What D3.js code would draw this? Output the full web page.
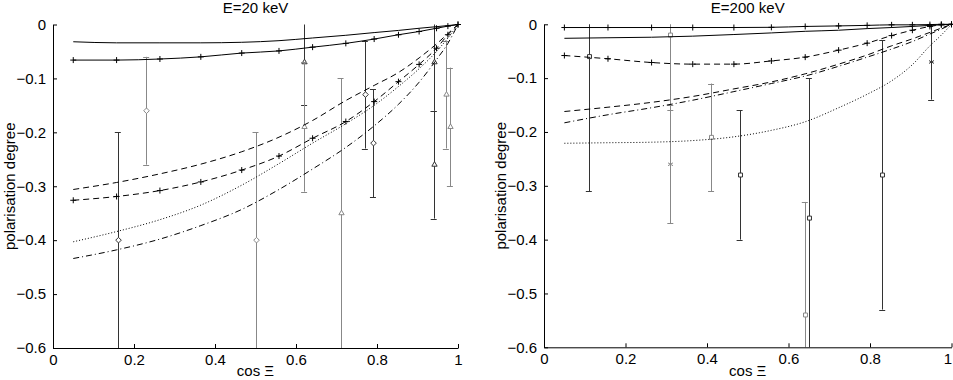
<!DOCTYPE html>
<meta charset="utf-8">
<style type="text/css">
body {
    margin: 0;
    background: #fff;
}

svg {
    display: block;
    font-family: 'Liberation Sans', Arial, sans-serif;
}
</style>

<body>
    <script src="https://d3js.org/d3.v7.min.js"></script>
    <script>
    // cos(Xi) grid used by every model curve
    var cosGrid = [0.05, 0.157, 0.264, 0.365, 0.466, 0.558, 0.641, 0.723, 0.793, 0.853, 0.904, 0.947, 0.975, 1.0]

    var xTicks = [0, 0.2, 0.4, 0.6, 0.8, 1]
    var yTicks = [0, -0.1, -0.2, -0.3, -0.4, -0.5, -0.6]
    var titles = ['E=20 keV', 'E=200 keV']

    // E = 20 keV model curves
    var e20Solid = [-0.032, -0.034, -0.034, -0.034, -0.033, -0.030, -0.025, -0.020, -0.015, -0.011, -0.007, -0.004, -0.002, 0]
    var e20SolidPlus = [-0.066, -0.066, -0.064, -0.060, -0.053, -0.049, -0.042, -0.035, -0.027, -0.019, -0.013, -0.007, -0.003, 0]
    var e20Dashed = [-0.306, -0.293, -0.277, -0.259, -0.236, -0.209, -0.178, -0.141, -0.113, -0.089, -0.062, -0.036, -0.017, 0]
    var e20DashedPlus = [-0.326, -0.319, -0.308, -0.292, -0.270, -0.244, -0.211, -0.180, -0.143, -0.106, -0.074, -0.044, -0.019, 0]
    var e20Dotted = [-0.403, -0.384, -0.362, -0.335, -0.298, -0.258, -0.220, -0.184, -0.150, -0.115, -0.082, -0.050, -0.025, 0]
    var e20DashDot = [-0.434, -0.418, -0.398, -0.373, -0.343, -0.306, -0.268, -0.228, -0.188, -0.148, -0.107, -0.065, -0.035, 0]

    // E = 200 keV model curves
    var e200Solid = [-0.026, -0.025, -0.024, -0.022, -0.019, -0.016, -0.013, -0.011, -0.008, -0.006, -0.004, -0.002, -0.001, 0]
    var e200SolidPlus = [-0.006, -0.006, -0.006, -0.006, -0.006, -0.0056, -0.004, -0.003, -0.002, -0.001, -0.001, -0.0005, 0, 0]
    var e200Dashed = [-0.162, -0.154, -0.145, -0.134, -0.120, -0.107, -0.092, -0.074, -0.057, -0.040, -0.027, -0.015, -0.007, 0]
    var e200DashedPlus = [-0.058, -0.064, -0.071, -0.074, -0.074, -0.068, -0.061, -0.048, -0.035, -0.021, -0.011, -0.004, -0.001, 0]
    var e200Dotted = [-0.221, -0.220, -0.219, -0.216, -0.209, -0.197, -0.181, -0.155, -0.130, -0.105, -0.075, -0.040, -0.020, 0]
    var e200DashDot = [-0.183, -0.168, -0.155, -0.141, -0.125, -0.110, -0.096, -0.078, -0.061, -0.046, -0.032, -0.018, -0.009, 0]

    // measured points: cos, value, error, marker, data set
    var e20Obs = [
        { x: 0.16, y: -0.40, err: 0.20, mark: 'diamond', set: 1 },
        { x: 0.23, y: -0.16, err: 0.10, mark: 'diamond', set: 2 },
        { x: 0.50, y: -0.40, err: 0.20, mark: 'diamond', set: 2 },
        { x: 0.62, y: -0.07, err: 0.08, mark: 'triangle', set: 1 },
        { x: 0.62, y: -0.19, err: 0.12, mark: 'triangle', set: 2 },
        { x: 0.71, y: -0.35, err: 0.25, mark: 'triangle', set: 2 },
        { x: 0.77, y: -0.13, err: 0.10, mark: 'diamond', set: 1 },
        { x: 0.79, y: -0.22, err: 0.10, mark: 'diamond', set: 1 },
        { x: 0.94, y: -0.07, err: 0.09, mark: 'triangle', set: 1 },
        { x: 0.94, y: -0.26, err: 0.10, mark: 'triangle', set: 1 },
        { x: 0.97, y: -0.13, err: 0.10, mark: 'triangle', set: 2 },
        { x: 0.98, y: -0.19, err: 0.11, mark: 'triangle', set: 2 }
    ]
    var e200Obs = [
        { x: 0.11, y: -0.06, err: 0.25, mark: 'square', set: 1 },
        { x: 0.31, y: -0.02, err: 0.14, mark: 'square', set: 2 },
        { x: 0.31, y: -0.26, err: 0.11, mark: 'star', set: 2 },
        { x: 0.41, y: -0.21, err: 0.10, mark: 'square', set: 2 },
        { x: 0.48, y: -0.28, err: 0.12, mark: 'square', set: 1 },
        { x: 0.64, y: -0.54, err: 0.21, mark: 'square', set: 2 },
        { x: 0.65, y: -0.36, err: 0.26, mark: 'square', set: 1 },
        { x: 0.83, y: -0.28, err: 0.25, mark: 'square', set: 1 },
        { x: 0.95, y: -0.07, err: 0.07, mark: 'star', set: 1 }
    ]

    var dashes = { solid: null, dashed: '6,4', dotted: '1,2', dashdot: '6,3,1,3' }
    var setColor = { 1: '#333', 2: '#888' }
    var symbolType = {
        diamond: d3.symbolDiamond2,
        triangle: d3.symbolTriangle2,
        square: d3.symbolSquare2,
        star: d3.symbolAsterisk
    }

    var panels = [
        {
            title: titles[0], left: 53, right: 458, top: 24.5, bottom: 348,
            curves: [
                { v: e20Solid, dash: 'solid', plus: false },
                { v: e20SolidPlus, dash: 'solid', plus: true },
                { v: e20Dashed, dash: 'dashed', plus: false },
                { v: e20DashedPlus, dash: 'dashed', plus: true },
                { v: e20Dotted, dash: 'dotted', plus: false },
                { v: e20DashDot, dash: 'dashdot', plus: false }
            ],
            obs: e20Obs
        },
        {
            title: titles[1], left: 544, right: 951.5, top: 24.3, bottom: 347.3,
            curves: [
                { v: e200Solid, dash: 'solid', plus: false },
                { v: e200SolidPlus, dash: 'solid', plus: true },
                { v: e200Dashed, dash: 'dashed', plus: false },
                { v: e200DashedPlus, dash: 'dashed', plus: true },
                { v: e200Dotted, dash: 'dotted', plus: false },
                { v: e200DashDot, dash: 'dashdot', plus: false }
            ],
            obs: e200Obs
        }
    ]

    var fmt = d3.format('~g')

    var svg = d3.select('body').append('svg')
        .attr('width', 953)
        .attr('height', 380)

    panels.forEach(render_panel)

    function render_panel(p, i) {
        var x = d3.scaleLinear().domain([0, 1]).range([p.left, p.right])
        var y = d3.scaleLinear().domain([-0.6, 0]).range([p.bottom, p.top])
        var g = svg.append('g')

        g.append('clipPath')
            .attr('id', 'clip' + i)
            .append('rect')
            .attr('x', p.left)
            .attr('y', p.top)
            .attr('width', p.right - p.left)
            .attr('height', p.bottom - p.top)

        // error bars
        var bars = g.append('g')
            .attr('clip-path', 'url(#clip' + i + ')')
            .selectAll('g')
            .data(p.obs)
            .enter()
            .append('g')
            .attr('stroke', d => setColor[d.set])
            .attr('fill', 'none')
            .attr('stroke-width', 1)

        bars.append('line')
            .attr('x1', d => Math.round(x(d.x)) + 0.5)
            .attr('x2', d => Math.round(x(d.x)) + 0.5)
            .attr('y1', d => y(d.y - d.err))
            .attr('y2', d => y(d.y + d.err))
        bars.append('line')
            .attr('x1', d => x(d.x) - 3)
            .attr('x2', d => x(d.x) + 3)
            .attr('y1', d => Math.round(y(d.y + d.err)) + 0.5)
            .attr('y2', d => Math.round(y(d.y + d.err)) + 0.5)
        bars.append('line')
            .attr('x1', d => x(d.x) - 3)
            .attr('x2', d => x(d.x) + 3)
            .attr('y1', d => Math.round(y(d.y - d.err)) + 0.5)
            .attr('y2', d => Math.round(y(d.y - d.err)) + 0.5)
        bars.append('path')
            .attr('transform', d => 'translate(' + (Math.round(x(d.x)) + 0.5) + ',' + y(d.y) + ')')
            .attr('d', d => d3.symbol().type(symbolType[d.mark]).size(d.mark == 'star' ? 22 : 20)())
            .attr('fill', '#fff')

        // model curves
        var line = d3.line()
            .x((d, j) => x(cosGrid[j]))
            .y(d => y(d))
            .curve(d3.curveMonotoneX)

        p.curves.forEach(function(c) {
            g.append('path')
                .attr('d', line(c.v))
                .attr('fill', 'none')
                .attr('stroke', '#000')
                .attr('stroke-width', 1)
                .attr('stroke-dasharray', dashes[c.dash])

            if (c.plus) {
                g.selectAll(null)
                    .data(c.v)
                    .enter()
                    .append('path')
                    .attr('transform', (d, j) => 'translate(' + x(cosGrid[j]) + ',' + y(d) + ')')
                    .attr('d', 'M-3,0H3M0,-3V3')
                    .attr('stroke', '#000')
                    .attr('stroke-width', 1)
            }
        })

        // axes, ticks pointing inward
        var xAxis = g.append('g')
            .attr('transform', 'translate(0,' + p.bottom + ')')
            .call(d3.axisBottom(x).tickValues(xTicks).tickFormat(fmt)
                .tickSizeInner(-4).tickSizeOuter(0).tickPadding(6))
        var yAxis = g.append('g')
            .attr('transform', 'translate(' + p.left + ',0)')
            .call(d3.axisLeft(y).tickValues(yTicks).tickFormat(fmt)
                .tickSizeInner(-4).tickSizeOuter(0).tickPadding(7))

        ;[xAxis, yAxis].forEach(function(a) {
            a.attr('font-size', 15)
                .attr('font-family', null)
            a.selectAll('text').attr('fill', '#000')
            a.selectAll('line, path').attr('stroke', '#000')
        })

        // last x label would run off the page edge on the right panel
        if (p.right > 940) {
            xAxis.selectAll('.tick text')
                .filter(d => d == 1)
                .attr('text-anchor', 'end')
                .attr('dx', 0)
        }

        g.append('text')
            .attr('x', (p.left + p.right) / 2)
            .attr('y', 13)
            .attr('text-anchor', 'middle')
            .attr('font-size', 15)
            .text(p.title)

        g.append('text')
            .attr('x', (p.left + p.right) / 2)
            .attr('y', 376)
            .attr('text-anchor', 'middle')
            .attr('font-size', 15)
            .text('cos Ξ')

        g.append('text')
            .attr('transform', 'translate(' + (p.left - 38) + ',' + ((p.top + p.bottom) / 2) + ') rotate(-90)')
            .attr('text-anchor', 'middle')
            .attr('font-size', 15)
            .text('polarisation degree')
    }
    </script>
</body>
